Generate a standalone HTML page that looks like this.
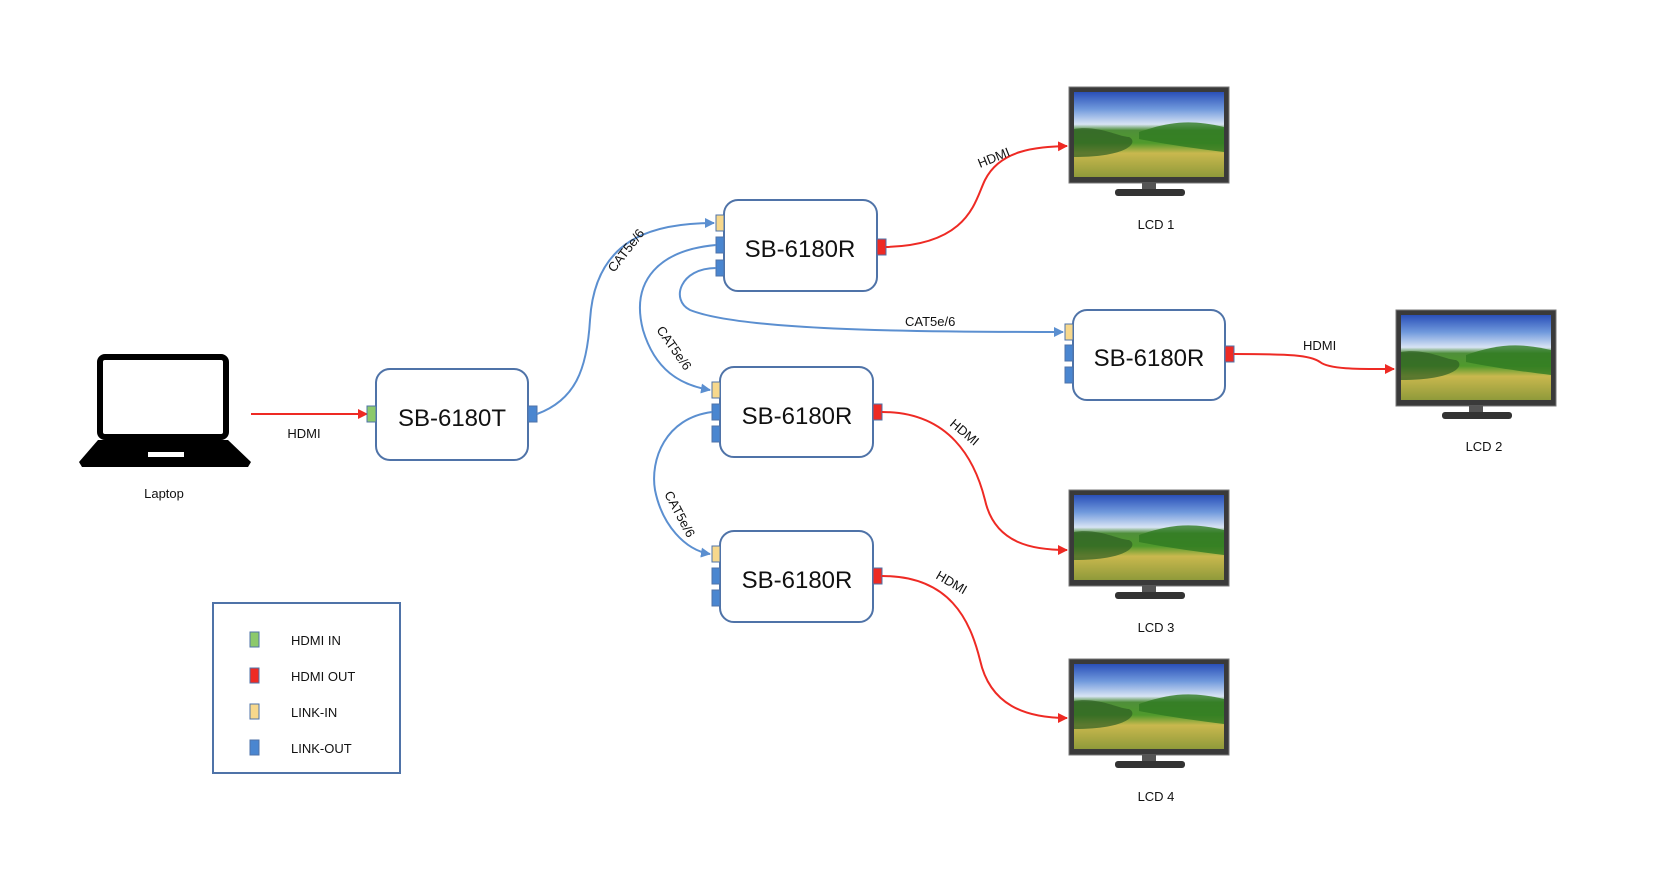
<!DOCTYPE html>
<html><head><meta charset="utf-8"><style>
html,body{margin:0;padding:0;background:#fff}
svg{display:block}
text{font-family:"Liberation Sans",sans-serif;fill:#111}
</style></head><body>
<svg width="1654" height="889" viewBox="0 0 1654 889" xmlns="http://www.w3.org/2000/svg">
<defs>
<marker id="ab" markerWidth="10" markerHeight="10" refX="9" refY="5" orient="auto" markerUnits="userSpaceOnUse"><path d="M0,0 L10,5 L0,10 z" fill="#5b8fd0"/></marker>
<marker id="ar" markerWidth="10" markerHeight="10" refX="9" refY="5" orient="auto" markerUnits="userSpaceOnUse"><path d="M0,0 L10,5 L0,10 z" fill="#ee2a24"/></marker>
<linearGradient id="scr" x1="0" y1="0" x2="0" y2="1">
<stop offset="0" stop-color="#2a4fb8"/><stop offset="0.2" stop-color="#6f98dc"/><stop offset="0.38" stop-color="#d8e4f4"/><stop offset="0.45" stop-color="#4f8f3a"/><stop offset="0.6" stop-color="#4f9a2c"/><stop offset="0.72" stop-color="#c9b84e"/><stop offset="1" stop-color="#8f9a3a"/>
</linearGradient>
<g id="tv">
<rect x="0" y="0" width="160" height="96" fill="#3a3a3a" stroke="#777" stroke-width="1"/>
<rect x="5" y="5" width="150" height="85" fill="url(#scr)"/>
<path d="M5,42 C30,38 50,50 60,50 C70,55 60,70 5,70 Z" fill="#2e5e22" opacity="0.7"/>
<path d="M70,45 C100,35 120,32 155,40 L155,65 C130,62 100,58 70,52 Z" fill="#2f7a22" opacity="0.8"/>
<rect x="73" y="96" width="14" height="6" fill="#555"/>
<rect x="46" y="102" width="70" height="7" rx="3" fill="#333"/>
</g>
</defs>

<!-- laptop -->
<rect x="100" y="357" width="126" height="80" rx="5" fill="none" stroke="#000" stroke-width="6"/>
<path d="M98,440 L228,440 L251,462 L248,467 L82,467 L79,462 Z" fill="#000"/>
<rect x="148" y="452" width="36" height="5" fill="#fff"/>
<text x="164" y="498" font-size="13" text-anchor="middle">Laptop</text>

<!-- HDMI laptop->T -->
<line x1="251" y1="414" x2="367" y2="414" stroke="#ee2a24" stroke-width="2" marker-end="url(#ar)"/>
<text x="304" y="438" font-size="13" text-anchor="middle">HDMI</text>

<!-- boxes -->
<g fill="#fff" stroke="#4f73a8" stroke-width="2">
<rect x="376" y="369" width="152" height="91" rx="14"/>
<rect x="724" y="200" width="153" height="91" rx="14"/>
<rect x="1073" y="310" width="152" height="90" rx="14"/>
<rect x="720" y="367" width="153" height="90" rx="14"/>
<rect x="720" y="531" width="153" height="91" rx="14"/>
</g>
<g font-size="24" text-anchor="middle">
<text x="800" y="257">SB-6180R</text>
<text x="452" y="426">SB-6180T</text>
<text x="1149" y="366">SB-6180R</text>
<text x="797" y="424">SB-6180R</text>
<text x="797" y="588">SB-6180R</text>
</g>

<!-- ports -->
<g stroke="#4f73a8" stroke-width="1">
<rect x="367" y="406" width="9" height="16" fill="#8cc96b"/>
<rect x="528" y="406" width="9" height="16" fill="#4a86d0"/>
<rect x="716" y="215" width="8" height="16" fill="#f7d88c"/>
<rect x="716" y="237" width="8" height="16" fill="#4a86d0"/>
<rect x="716" y="260" width="8" height="16" fill="#4a86d0"/>
<rect x="877" y="239" width="9" height="16" fill="#ee2a24"/>
<rect x="1065" y="324" width="8" height="16" fill="#f7d88c"/>
<rect x="1065" y="345" width="8" height="16" fill="#4a86d0"/>
<rect x="1065" y="367" width="8" height="16" fill="#4a86d0"/>
<rect x="1225" y="346" width="9" height="16" fill="#ee2a24"/>
<rect x="712" y="382" width="8" height="16" fill="#f7d88c"/>
<rect x="712" y="404" width="8" height="16" fill="#4a86d0"/>
<rect x="712" y="426" width="8" height="16" fill="#4a86d0"/>
<rect x="873" y="404" width="9" height="16" fill="#ee2a24"/>
<rect x="712" y="546" width="8" height="16" fill="#f7d88c"/>
<rect x="712" y="568" width="8" height="16" fill="#4a86d0"/>
<rect x="712" y="590" width="8" height="16" fill="#4a86d0"/>
<rect x="873" y="568" width="9" height="16" fill="#ee2a24"/>
</g>

<!-- blue links -->
<g fill="none" stroke="#5b8fd0" stroke-width="2">
<path d="M537,414 C575,400 587,370 590,320 C595,240 650,223 714,223" marker-end="url(#ab)"/>
<path d="M716,245 C660,250 630,280 643,330 C655,370 680,385 710,390" marker-end="url(#ab)"/>
<path d="M716,268 C680,268 670,300 690,310 C740,330 900,332 1063,332" marker-end="url(#ab)"/>
<path d="M712,412 C665,418 650,460 655,490 C662,525 685,550 710,554" marker-end="url(#ab)"/>
</g>
<g font-size="13">
<text transform="translate(614,273) rotate(-52)">CAT5e/6</text>
<text transform="translate(656,330) rotate(55)">CAT5e/6</text>
<text x="905" y="326">CAT5e/6</text>
<text transform="translate(664,494) rotate(62)">CAT5e/6</text>
</g>

<!-- red links -->
<g fill="none" stroke="#ee2a24" stroke-width="2">
<path d="M886,247 C970,245 975,200 985,180 C1000,150 1035,147 1067,146" marker-end="url(#ar)"/>
<path d="M1234,354 C1290,354 1310,355 1320,362 C1330,370 1365,369 1394,369" marker-end="url(#ar)"/>
<path d="M882,412 C950,412 975,460 985,500 C995,545 1035,550 1067,550" marker-end="url(#ar)"/>
<path d="M882,576 C950,576 970,620 980,660 C990,705 1025,718 1067,718" marker-end="url(#ar)"/>
</g>
<g font-size="13">
<text transform="translate(980,168) rotate(-22)">HDMI</text>
<text x="1303" y="350">HDMI</text>
<text transform="translate(949,425) rotate(40)">HDMI</text>
<text transform="translate(935,578) rotate(30)">HDMI</text>
</g>

<!-- TVs -->
<use href="#tv" x="1069" y="87"/>
<use href="#tv" x="1396" y="310"/>
<use href="#tv" x="1069" y="490"/>
<use href="#tv" x="1069" y="659"/>
<g font-size="13" text-anchor="middle">
<text x="1156" y="229">LCD 1</text>
<text x="1484" y="451">LCD 2</text>
<text x="1156" y="632">LCD 3</text>
<text x="1156" y="801">LCD 4</text>
</g>

<!-- legend -->
<rect x="213" y="603" width="187" height="170" fill="none" stroke="#4f73a8" stroke-width="2"/>
<g stroke="#4f73a8" stroke-width="1">
<rect x="250" y="632" width="9" height="15" fill="#8cc96b"/>
<rect x="250" y="668" width="9" height="15" fill="#ee2a24"/>
<rect x="250" y="704" width="9" height="15" fill="#f7d88c"/>
<rect x="250" y="740" width="9" height="15" fill="#4a86d0"/>
</g>
<g font-size="13">
<text x="291" y="645">HDMI IN</text>
<text x="291" y="681">HDMI OUT</text>
<text x="291" y="717">LINK-IN</text>
<text x="291" y="753">LINK-OUT</text>
</g>
</svg>
</body></html>
